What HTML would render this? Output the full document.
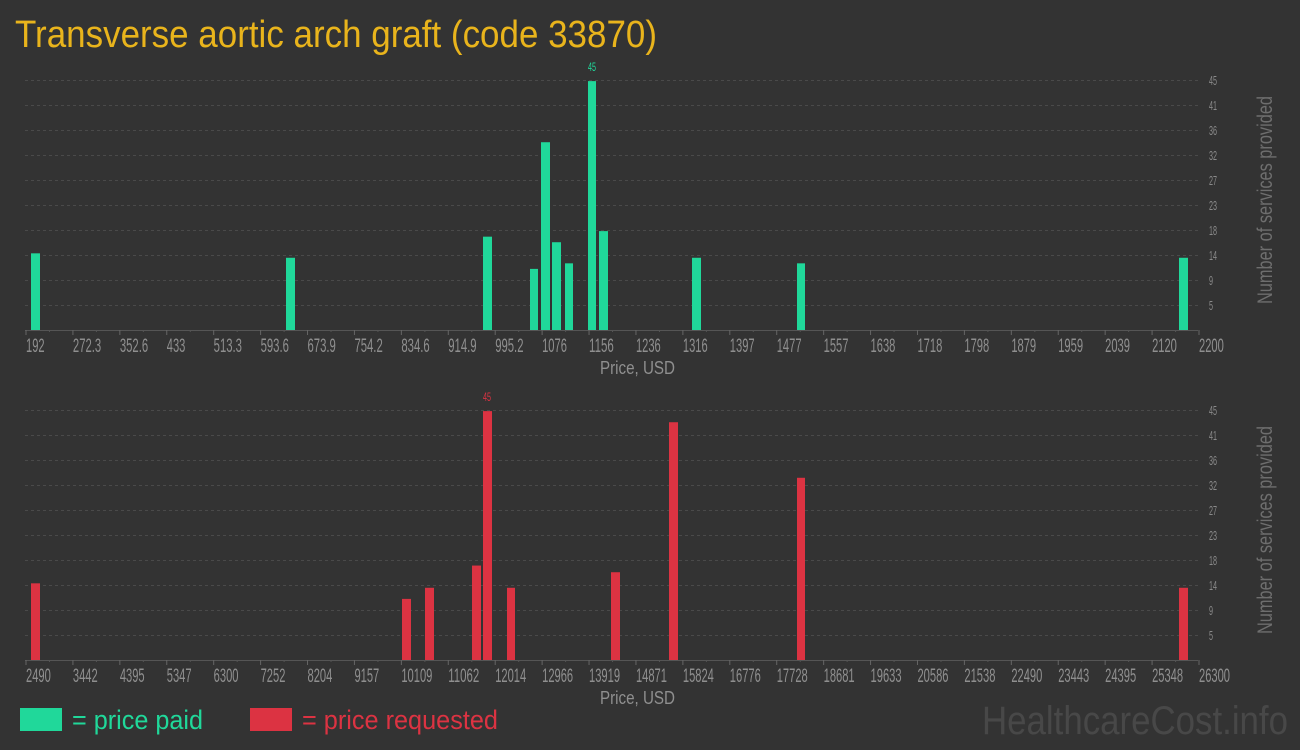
<!DOCTYPE html>
<html><head><meta charset="utf-8"><style>
html,body{margin:0;padding:0;background:#333333;}
svg{display:block;font-family:"Liberation Sans",sans-serif;}
</style></head><body>
<svg id="s" width="1300" height="750" xmlns="http://www.w3.org/2000/svg">
<rect width="1300" height="750" fill="#333333"/>
<text x="15" y="47" font-size="38" fill="#e9b41c" textLength="642" lengthAdjust="spacingAndGlyphs">Transverse aortic arch graft (code 33870)</text>
<rect x="20" y="708" width="42" height="23" fill="#20d89a"/>
<text x="72" y="729" font-size="27" fill="#20d89a" textLength="131" lengthAdjust="spacingAndGlyphs">= price paid</text>
<rect x="250" y="708" width="42" height="23" fill="#dc3342"/>
<text x="302" y="729" font-size="27" fill="#dc3342" textLength="196" lengthAdjust="spacingAndGlyphs">= price requested</text>
<text x="982" y="734" font-size="40" fill="#484848" textLength="306" lengthAdjust="spacingAndGlyphs">HealthcareCost.info</text>
</svg>
<script>
const s=document.getElementById('s');const NS='http://www.w3.org/2000/svg';
function el(t,a,txt){const e=document.createElementNS(NS,t);for(const k in a)e.setAttribute(k,a[k]);if(txt!==undefined)e.textContent=txt;s.appendChild(e);return e;}
function tw(str){let w=0;for(const c of str)w+=(c=='.'?3.5:c==','?3:c==' '?3:6.2);return w;}
function chart(top,labels,bars,color,peakLabelX){
  const base=top+250;
  const yl=['45','41','36','32','27','23','18','14','9','5'];
  for(let k=0;k<10;k++){const y=top+25*k;
    el('line',{x1:25,x2:1198,y1:y+0.5,y2:y+0.5,stroke:'#4a4a4a','stroke-dasharray':'3,3','stroke-width':1});
    el('text',{x:1209,y:y+5,'font-size':13,fill:'#8a8a8a',textLength:yl[k].length*4,lengthAdjust:'spacingAndGlyphs'},yl[k]);
  }
  el('line',{x1:25,x2:1198,y1:base+0.5,y2:base+0.5,stroke:'#555',"stroke-width":1});
  for(let i=0;i<=25;i++){const x=26+46.92*i;
    el('line',{x1:x,x2:x,y1:base,y2:base+5,stroke:'#666'});
    if(i<25){el('line',{x1:x+23.5,x2:x+23.5,y1:base,y2:base+2,stroke:'#555'});}
    const L=labels[i];
    el('text',{x:x,y:base+22,'font-size':19,fill:'#8f8f8f',textLength:tw(L),lengthAdjust:'spacingAndGlyphs'},L);
  }
  el('text',{x:600,y:base+44,'font-size':18,fill:'#8f8f8f',textLength:75,lengthAdjust:'spacingAndGlyphs'},'Price, USD');
  const cy=top+120;
  el('text',{x:0,y:0,'font-size':21,fill:'#6e6e6e',textLength:208,lengthAdjust:'spacingAndGlyphs',transform:`translate(1272 ${cy+104}) rotate(-90)`},'Number of services provided');
  for(const b of bars){const h=b[2]*250/45;el('rect',{x:b[0],y:base-h,width:b[1]-b[0],height:h,fill:color});}
  el('text',{x:peakLabelX,y:top-9,'font-size':12,fill:color,textLength:8,lengthAdjust:'spacingAndGlyphs'},'45');
}
const l1=['192','272.3','352.6','433','513.3','593.6','673.9','754.2','834.6','914.9','995.2','1076','1156','1236','1316','1397','1477','1557','1638','1718','1798','1879','1959','2039','2120','2200'];
const b1=[[31,40,13.8],[286,295,13],[483,492,16.8],[530,538,11],[541,550,33.8],[552,561,15.8],[565,573,12],[588,596,44.8],[599,608,17.8],[692,701,13],[797,805,12],[1179,1188,13]];
chart(80,l1,b1,'#20d89a',588);
const l2=['2490','3442','4395','5347','6300','7252','8204','9157','10109','11062','12014','12966','13919','14871','15824','16776','17728','18681','19633','20586','21538','22490','23443','24395','25348','26300'];
const b2=[[31,40,13.8],[402,411,11],[425,434,13],[472,481,17],[483,492,44.8],[507,515,13],[611,620,15.8],[669,678,42.8],[797,805,32.8],[1179,1188,13]];
chart(410,l2,b2,'#dc3342',483);
</script>
</body></html>
